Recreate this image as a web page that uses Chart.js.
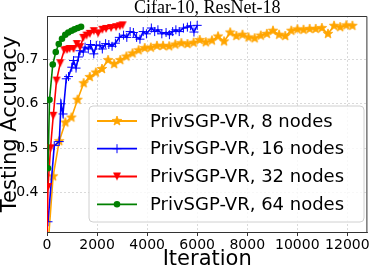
<!DOCTYPE html>
<html><head><meta charset="utf-8">
<script src="https://cdn.jsdelivr.net/npm/chart.js@4.4.0/dist/chart.umd.min.js"></script>
<style>html,body{margin:0;padding:0;background:#fff;}canvas{display:block;}</style>
</head><body>
<canvas id="c" width="374" height="268"></canvas>
<script>
// ---- data ----
const chartTitle = "Cifar-10, ResNet-18";
const xLabel = "Iteration";
const yLabel = "Testing Accuracy";
const seriesNames = ["PrivSGP-VR, 8 nodes", "PrivSGP-VR, 16 nodes", "PrivSGP-VR, 32 nodes", "PrivSGP-VR, 64 nodes"];
const xTicks = [0, 2000, 4000, 6000, 8000, 10000, 12000];
const yTicks = [0.4, 0.5, 0.6, 0.7];

const iters8 = [0,244,488,732,976,1220,1464,1708,1952,2196,2440,2684,2928,3172,3416,3660,3904,4148,4392,4636,4880,5124,5368,5612,5856,6100,6344,6588,6832,7076,7320,7564,7808,8052,8296,8540,8784,9028,9272,9516,9760,10004,10248,10492,10736,10980,11224,11468,11712,11956,12200];
const acc8 = [0.25,0.437,0.516,0.558,0.569,0.609,0.646,0.660,0.670,0.678,0.698,0.689,0.698,0.706,0.713,0.720,0.725,0.726,0.730,0.730,0.729,0.733,0.736,0.734,0.737,0.743,0.738,0.742,0.751,0.740,0.760,0.752,0.755,0.749,0.747,0.753,0.757,0.764,0.755,0.752,0.764,0.767,0.766,0.768,0.768,0.770,0.757,0.775,0.772,0.776,0.775];

const iters16 = [40,290,490,560,640,770,860,990,1060,1160,1260,1320,1450,1520,1650,1740,1870,1970,2110,2210,2341,2470,2600,2733,2890,3059,3188,3322,3451,3580,3714,3843,3973,4169,4302,4431,4588,4757,4890,5020,5149,5282,5451,5608,5737,5871,6000];
const acc16 = [0.335,0.506,0.515,0.600,0.577,0.656,0.661,0.682,0.697,0.680,0.705,0.719,0.716,0.727,0.723,0.733,0.712,0.731,0.731,0.723,0.735,0.733,0.729,0.736,0.749,0.754,0.749,0.762,0.760,0.749,0.745,0.762,0.757,0.770,0.762,0.766,0.757,0.760,0.755,0.762,0.766,0.762,0.770,0.772,0.775,0.761,0.776];

const iters32 = [0,40,140,250,380,530,690,800,900,1060,1190,1320,1450,1580,1710,1870,2040,2210,2360,2560,2760,2910,3020];
const acc32 = [0.30,0.413,0.500,0.573,0.652,0.691,0.720,0.721,0.723,0.723,0.734,0.727,0.748,0.753,0.757,0.763,0.758,0.766,0.768,0.770,0.772,0.774,0.776];

const iters64 = [40,100,230,350,470,600,730,850,980,1100,1230,1360];
const acc64 = [0.455,0.609,0.688,0.716,0.734,0.746,0.755,0.760,0.764,0.767,0.770,0.773];

// ---- marker images ----
function starImg(color, R) {
  const s = Math.ceil(R * 2 + 2), c = document.createElement('canvas');
  c.width = s; c.height = s;
  const g = c.getContext('2d');
  g.fillStyle = color; g.strokeStyle = color; g.lineWidth = 0.8;
  g.beginPath();
  for (let i = 0; i < 10; i++) {
    const r = i % 2 ? R * 0.42 : R, a = -Math.PI / 2 + i * Math.PI / 5;
    g.lineTo(s / 2 + r * Math.cos(a), s / 2 + r * Math.sin(a));
  }
  g.closePath(); g.fill(); g.stroke();
  return c;
}
function triDownImg(color, R) {
  const s = Math.ceil(R * 2 + 2), c = document.createElement('canvas');
  c.width = s; c.height = s;
  const g = c.getContext('2d');
  g.fillStyle = color;
  g.beginPath();
  g.moveTo(s / 2 - R, s / 2 - R);
  g.lineTo(s / 2 + R, s / 2 - R);
  g.lineTo(s / 2, s / 2 + R);
  g.closePath(); g.fill();
  return c;
}

const colors = ['#FFA500', '#0000FF', '#FF0000', '#008000'];
const starM = starImg(colors[0], 5);
const triM = triDownImg(colors[2], 4);

function pts(xs, ys) { return xs.map((x, i) => ({ x: x, y: ys[i] })); }

const datasets = [
  { label: seriesNames[0], data: pts(iters8, acc8), borderColor: colors[0], backgroundColor: colors[0], pointStyle: starM, pointRadius: 5, order: 4 },
  { label: seriesNames[1], data: pts(iters16, acc16), borderColor: colors[1], backgroundColor: colors[1], pointStyle: 'cross', pointRadius: 4.5, pointBorderWidth: 1, order: 3 },
  { label: seriesNames[2], data: pts(iters32, acc32), borderColor: colors[2], backgroundColor: colors[2], pointStyle: triM, pointRadius: 4, order: 2 },
  { label: seriesNames[3], data: pts(iters64, acc64), borderColor: colors[3], backgroundColor: colors[3], pointStyle: 'circle', pointRadius: 3.3, pointBorderWidth: 0, order: 1 }
].map(d => Object.assign({ borderWidth: 1.6, tension: 0, fill: false, pointHoverRadius: 0 }, d));

const legendStyles = [
  { img: starM }, { cross: true }, { img: triM }, { circle: true }
];

const framePlugin = {
  id: 'frame',
  afterDatasetsDraw(chart) {
    const ctx = chart.ctx, a = chart.chartArea;
    ctx.save();
    // top/right spines
    ctx.strokeStyle = '#333'; ctx.lineWidth = 1;
    ctx.beginPath();
    ctx.moveTo(a.left, a.top + 0.5); ctx.lineTo(a.right - 0.5, a.top + 0.5); ctx.lineTo(a.right - 0.5, a.bottom);
    ctx.stroke();
    // legend box
    const bx = 89, by = 106, bw = 275, bh = 116, r = 4;
    ctx.beginPath();
    ctx.moveTo(bx + r, by); ctx.lineTo(bx + bw - r, by); ctx.quadraticCurveTo(bx + bw, by, bx + bw, by + r);
    ctx.lineTo(bx + bw, by + bh - r); ctx.quadraticCurveTo(bx + bw, by + bh, bx + bw - r, by + bh);
    ctx.lineTo(bx + r, by + bh); ctx.quadraticCurveTo(bx, by + bh, bx, by + bh - r);
    ctx.lineTo(bx, by + r); ctx.quadraticCurveTo(bx, by, bx + r, by);
    ctx.closePath();
    ctx.fillStyle = 'rgba(255,255,255,0.8)'; ctx.fill();
    ctx.strokeStyle = '#d0d0d0'; ctx.lineWidth = 1; ctx.stroke();
    const rows = [121, 148.7, 176.5, 204.3];
    ctx.font = '18px "DejaVu Sans"';
    ctx.textBaseline = 'middle'; ctx.textAlign = 'left';
    seriesNames.forEach((name, i) => {
      const y = rows[i];
      ctx.strokeStyle = colors[i]; ctx.lineWidth = 1.8;
      ctx.beginPath(); ctx.moveTo(97, y); ctx.lineTo(137, y); ctx.stroke();
      const st = legendStyles[i], mx = 117;
      if (st.img) ctx.drawImage(st.img, mx - st.img.width / 2, y - st.img.height / 2);
      if (st.cross) { ctx.lineWidth = 1; ctx.beginPath(); ctx.moveTo(mx - 4.5, y); ctx.lineTo(mx + 4.5, y); ctx.moveTo(mx, y - 4.5); ctx.lineTo(mx, y + 4.5); ctx.stroke(); }
      if (st.circle) { ctx.fillStyle = colors[i]; ctx.beginPath(); ctx.arc(mx, y, 3.3, 0, Math.PI * 2); ctx.fill(); }
      ctx.fillStyle = '#000';
      ctx.fillText(name, 150, y + 1);
    });
    // title
    ctx.font = '18px "Liberation Serif"';
    ctx.textAlign = 'center'; ctx.textBaseline = 'alphabetic'; ctx.fillStyle = '#000';
    ctx.fillText(chartTitle, (a.left + a.right) / 2, 13);
    ctx.restore();
  }
};

const gridCommon = { color: 'rgba(176,176,176,0.6)', lineWidth: 0.8, tickLength: 4, tickColor: '#333', tickWidth: 1, tickBorderDash: [] };
const tickFont = { family: 'DejaVu Sans', size: 14 };

new Chart(document.getElementById('c'), {
  type: 'line',
  data: { datasets: datasets },
  options: {
    responsive: false, animation: false, devicePixelRatio: 1,
    layout: { padding: { top: 16, right: 1, left: 0, bottom: 0 } },
    plugins: { legend: { display: false }, tooltip: { enabled: false }, title: { display: false } },
    events: [],
    scales: {
      x: {
        type: 'linear', min: 0, max: 12800,
        afterBuildTicks: s => { s.ticks = xTicks.map(v => ({ value: v })); },
        afterFit: s => { s.height = 36; },
        ticks: { font: tickFont, color: '#000', padding: 1, maxRotation: 0, autoSkip: false, callback: v => String(v) },
        grid: gridCommon,
        border: { display: true, color: '#333', width: 1, dash: [2, 2] },
        title: { display: true, text: xLabel, color: '#000', font: { family: 'DejaVu Sans', size: 21, lineHeight: 0.8 }, padding: 0 }
      },
      y: {
        type: 'linear', min: 0.312, max: 0.797,
        afterBuildTicks: s => { s.ticks = yTicks.map(v => ({ value: v })); },
        afterFit: s => { s.width = 47; },
        ticks: { font: tickFont, color: '#000', padding: 4.5, callback: v => v.toFixed(1) },
        grid: gridCommon,
        border: { display: true, color: '#333', width: 1, dash: [2, 2] },
        title: { display: true, text: yLabel, color: '#000', font: { family: 'DejaVu Sans', size: 21, lineHeight: 0.8 }, padding: { top: 2, bottom: 0 } }
      }
    }
  },
  plugins: [framePlugin]
});
</script>
</body></html>
